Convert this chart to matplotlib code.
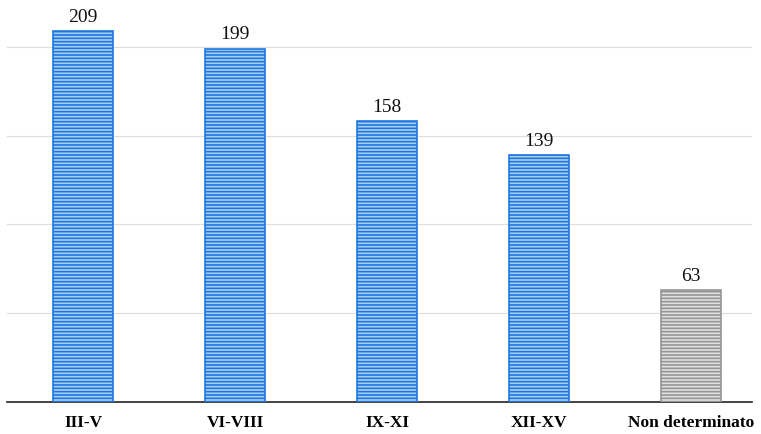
import matplotlib
matplotlib.use("Agg")
import matplotlib.pyplot as plt

categories = ["III-V", "VI-VIII", "IX-XI", "XII-XV", "Non determinato"]
values = [209, 199, 158, 139, 63]
face_colors = ["#a9cff5", "#a9cff5", "#a9cff5", "#a9cff5", "#e0e0e0"]
hatch_colors = ["#1e78e0", "#1e78e0", "#1e78e0", "#1e78e0", "#959595"]

plt.rcParams['font.family'] = ['Liberation Serif', 'DejaVu Serif']
plt.rcParams['hatch.linewidth'] = 1.2

fig = plt.figure(figsize=(7.61, 4.35), dpi=100)
ax = fig.add_axes([7 / 761, 32 / 435, 745 / 761, 403 / 435])

x = list(range(len(categories)))
for i in x:
    ax.bar(i, values[i], width=0.395, color=face_colors[i], hatch='-----',
           edgecolor=hatch_colors[i], linewidth=0.0, zorder=3)
    ax.bar(i, values[i], width=0.395, fill=False, edgecolor=hatch_colors[i],
           linewidth=1.2, zorder=4)
    ax.text(i, values[i] + 3.5, str(values[i]), ha='center', va='bottom',
            fontsize=14, color='#111111')

ax.set_xlim(-0.5, 4.40)
ax.set_ylim(0, 227)
ax.set_yticks([50, 100, 150, 200])
ax.yaxis.grid(True, color='#dddddd', linewidth=0.8, zorder=0)
ax.set_yticklabels([])
ax.tick_params(axis='y', length=0)
ax.tick_params(axis='x', length=0, pad=9)
ax.set_xticks(x)
ax.set_xticklabels(categories, fontsize=12.5, fontweight='bold')
for s in ['top', 'right', 'left']:
    ax.spines[s].set_visible(False)
ax.spines['bottom'].set_color('#222222')
ax.spines['bottom'].set_linewidth(1.2)

fig.savefig("out.png", dpi=100)
